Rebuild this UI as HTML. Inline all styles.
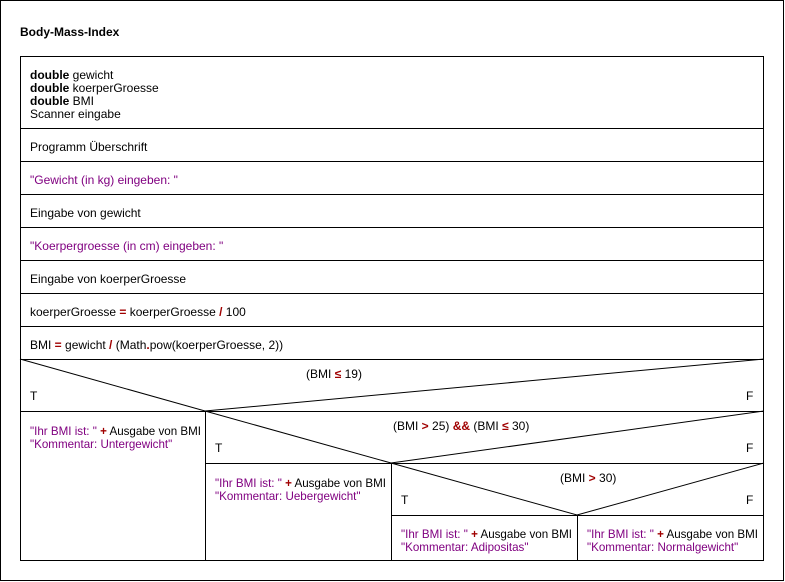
<!DOCTYPE html>
<html><head><meta charset="utf-8"><style>
html,body{margin:0;padding:0;background:#fff}
svg{display:block}
text{font-family:"Liberation Sans",Arial,sans-serif;font-size:12px;fill:#000}
.p{fill:#800080}.r{fill:#a00000;font-weight:bold}.b{font-weight:bold}
.s{font-size:11.6px}
</style></head><body>
<svg width="785" height="582" viewBox="0 0 785 582" xmlns="http://www.w3.org/2000/svg">
<rect x="0.5" y="0.5" width="783" height="580" fill="#fff" stroke="#000"/>
<text x="20" y="36" class="b">Body-Mass-Index</text>
<g stroke="#000" stroke-width="1" fill="none" shape-rendering="crispEdges">
<rect x="20.5" y="56.5" width="743" height="504"/>
<line x1="20" y1="128.5" x2="764" y2="128.5"/>
<line x1="20" y1="161.5" x2="764" y2="161.5"/>
<line x1="20" y1="194.5" x2="764" y2="194.5"/>
<line x1="20" y1="227.5" x2="764" y2="227.5"/>
<line x1="20" y1="260.5" x2="764" y2="260.5"/>
<line x1="20" y1="293.5" x2="764" y2="293.5"/>
<line x1="20" y1="326.5" x2="764" y2="326.5"/>
<line x1="20" y1="359.5" x2="764" y2="359.5"/>
<line x1="20" y1="411.5" x2="764" y2="411.5"/>
<line x1="205.5" y1="411" x2="205.5" y2="561"/>
<line x1="205" y1="463.5" x2="764" y2="463.5"/>
<line x1="391.5" y1="463" x2="391.5" y2="561"/>
<line x1="391" y1="515.5" x2="764" y2="515.5"/>
<line x1="577.5" y1="515" x2="577.5" y2="561"/>
</g>
<g stroke="#000" stroke-width="1" fill="none">
<polyline points="20,359 205,411 764,359"/>
<polyline points="205,411 391,463 764,411"/>
<polyline points="391,463 577,515 764,463"/>
</g>
<text x="30" y="79"><tspan class="b">double</tspan> gewicht</text>
<text x="30" y="92"><tspan class="b">double</tspan> koerperGroesse</text>
<text x="30" y="105"><tspan class="b">double</tspan> BMI</text>
<text x="30" y="118">Scanner eingabe</text>
<text x="30" y="151">Programm Überschrift</text>
<text x="30" y="184" class="p">"Gewicht (in kg) eingeben: "</text>
<text x="30" y="217">Eingabe von gewicht</text>
<text x="30" y="250" class="p">"Koerpergroesse (in cm) eingeben: "</text>
<text x="30" y="283">Eingabe von koerperGroesse</text>
<text x="30" y="316">koerperGroesse <tspan class="r">=</tspan> koerperGroesse <tspan class="r">/</tspan> 100</text>
<text x="30" y="349">BMI <tspan class="r">=</tspan> gewicht <tspan class="r">/</tspan> (Math<tspan class="r">.</tspan>pow(koerperGroesse, 2))</text>
<text x="306" y="378">(BMI <tspan class="r">≤</tspan> 19)</text>
<text x="30" y="400">T</text><text x="746" y="400">F</text>
<text x="393" y="430">(BMI <tspan class="r">&gt;</tspan> 25) <tspan class="r">&amp;&amp;</tspan> (BMI <tspan class="r">≤</tspan> 30)</text>
<text x="215" y="452">T</text><text x="746" y="452">F</text>
<text x="560" y="482">(BMI <tspan class="r">&gt;</tspan> 30)</text>
<text x="401" y="504">T</text><text x="746" y="504">F</text>
<text x="30" y="435" class="s"><tspan class="p">"Ihr BMI ist: "</tspan> <tspan class="r">+</tspan> Ausgabe von BMI</text>
<text x="30" y="448" class="p s">"Kommentar: Untergewicht"</text>
<text x="215" y="487" class="s"><tspan class="p">"Ihr BMI ist: "</tspan> <tspan class="r">+</tspan> Ausgabe von BMI</text>
<text x="215" y="500" class="p s">"Kommentar: Uebergewicht"</text>
<text x="401" y="538" class="s"><tspan class="p">"Ihr BMI ist: "</tspan> <tspan class="r">+</tspan> Ausgabe von BMI</text>
<text x="401" y="551" class="p s">"Kommentar: Adipositas"</text>
<text x="587" y="538" class="s"><tspan class="p">"Ihr BMI ist: "</tspan> <tspan class="r">+</tspan> Ausgabe von BMI</text>
<text x="587" y="551" class="p s">"Kommentar: Normalgewicht"</text>
</svg>
</body></html>
